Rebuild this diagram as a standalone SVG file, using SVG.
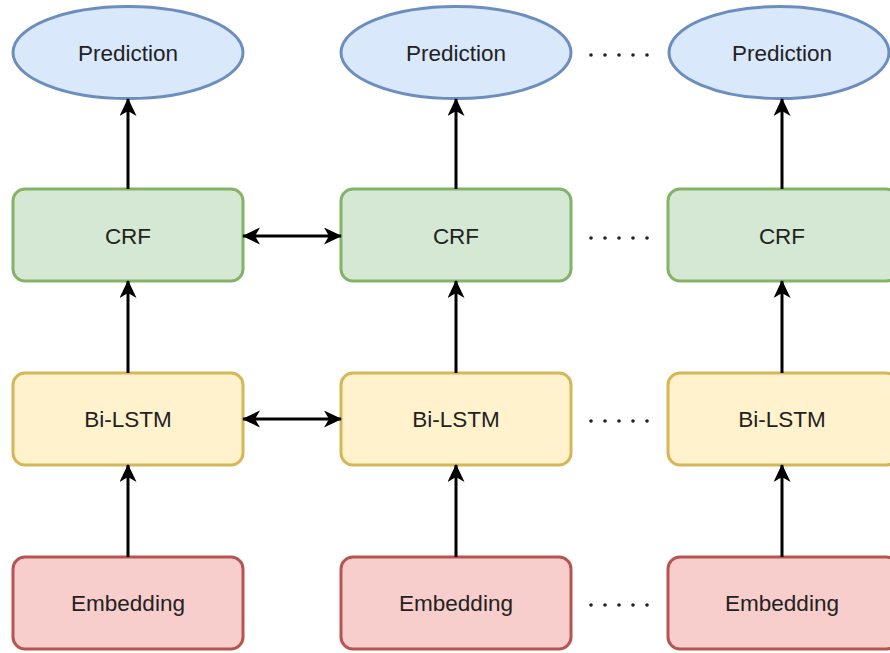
<svg xmlns="http://www.w3.org/2000/svg" width="890" height="653" viewBox="0 0 890 653">
  <style>
    .lbl { font-family: "Liberation Sans", Arial, sans-serif; font-size: 22.5px; fill: #222; text-anchor: middle; dominant-baseline: central; }
    .pred { fill: #dae8fc; stroke: #6c8ebf; stroke-width: 3; }
    .crf { fill: #d5e8d4; stroke: #82b366; stroke-width: 3; }
    .lstm { fill: #fff2cc; stroke: #d6b656; stroke-width: 3; }
    .emb { fill: #f8cecc; stroke: #b85450; stroke-width: 3; }
    .edge { stroke: #000; stroke-width: 3; fill: none; }
    .dot { fill: #222; }
  </style>
  <defs>
    <marker id="arrow" markerUnits="userSpaceOnUse" markerWidth="20" markerHeight="18" refX="17" refY="8.5" orient="auto-start-reverse">
      <path d="M0,0 L18,8.5 L0,17 L5,8.5 z" fill="#000"/>
    </marker>
  </defs>
  <rect width="890" height="653" fill="#fff"/>

  <!-- column 1 -->
  <g id="pred1"><ellipse class="pred" cx="128" cy="52.5" rx="115" ry="46"/><text class="lbl" x="128" y="53">Prediction</text></g>
  <g id="crf1"><rect class="crf" x="13" y="189" width="230" height="92" rx="12"/><text class="lbl" x="128" y="236">CRF</text></g>
  <g id="lstm1"><rect class="lstm" x="13" y="373" width="230" height="92" rx="12"/><text class="lbl" x="128" y="419">Bi-LSTM</text></g>
  <g id="emb1"><rect class="emb" x="13" y="557" width="230" height="92" rx="12"/><text class="lbl" x="128" y="603">Embedding</text></g>

  <!-- column 2 -->
  <g id="pred2"><ellipse class="pred" cx="456" cy="52.5" rx="115" ry="46"/><text class="lbl" x="456" y="53">Prediction</text></g>
  <g id="crf2"><rect class="crf" x="341" y="189" width="230" height="92" rx="12"/><text class="lbl" x="456" y="236">CRF</text></g>
  <g id="lstm2"><rect class="lstm" x="341" y="373" width="230" height="92" rx="12"/><text class="lbl" x="456" y="419">Bi-LSTM</text></g>
  <g id="emb2"><rect class="emb" x="341" y="557" width="230" height="92" rx="12"/><text class="lbl" x="456" y="603">Embedding</text></g>

  <!-- column 3 (runs past the right edge) -->
  <g id="pred3"><ellipse class="pred" cx="779" cy="52.5" rx="110" ry="46"/><text class="lbl" x="782" y="53">Prediction</text></g>
  <g id="crf3"><rect class="crf" x="668" y="189" width="230" height="92" rx="12"/><text class="lbl" x="782" y="236">CRF</text></g>
  <g id="lstm3"><rect class="lstm" x="668" y="373" width="230" height="92" rx="12"/><text class="lbl" x="782" y="419">Bi-LSTM</text></g>
  <g id="emb3"><rect class="emb" x="668" y="557" width="230" height="92" rx="12"/><text class="lbl" x="782" y="603">Embedding</text></g>

  <!-- ellipsis dots between columns 2 and 3 -->
  <g id="dots">
    <g transform="translate(0,55)"><circle class="dot" cx="591" cy="0" r="1.8"/><circle class="dot" cx="605" cy="0" r="1.8"/><circle class="dot" cx="619" cy="0" r="1.8"/><circle class="dot" cx="633" cy="0" r="1.8"/><circle class="dot" cx="647" cy="0" r="1.8"/></g>
    <g transform="translate(0,238)"><circle class="dot" cx="591" cy="0" r="1.8"/><circle class="dot" cx="605" cy="0" r="1.8"/><circle class="dot" cx="619" cy="0" r="1.8"/><circle class="dot" cx="633" cy="0" r="1.8"/><circle class="dot" cx="647" cy="0" r="1.8"/></g>
    <g transform="translate(0,421)"><circle class="dot" cx="591" cy="0" r="1.8"/><circle class="dot" cx="605" cy="0" r="1.8"/><circle class="dot" cx="619" cy="0" r="1.8"/><circle class="dot" cx="633" cy="0" r="1.8"/><circle class="dot" cx="647" cy="0" r="1.8"/></g>
    <g transform="translate(0,605)"><circle class="dot" cx="591" cy="0" r="1.8"/><circle class="dot" cx="605" cy="0" r="1.8"/><circle class="dot" cx="619" cy="0" r="1.8"/><circle class="dot" cx="633" cy="0" r="1.8"/><circle class="dot" cx="647" cy="0" r="1.8"/></g>
  </g>

  <!-- connectors -->
  <g id="edges">
    <line class="edge" x1="128" y1="189" x2="128" y2="99" marker-end="url(#arrow)"/>
    <line class="edge" x1="128" y1="373" x2="128" y2="281" marker-end="url(#arrow)"/>
    <line class="edge" x1="128" y1="557" x2="128" y2="465" marker-end="url(#arrow)"/>
    <line class="edge" x1="456" y1="189" x2="456" y2="99" marker-end="url(#arrow)"/>
    <line class="edge" x1="456" y1="373" x2="456" y2="281" marker-end="url(#arrow)"/>
    <line class="edge" x1="456" y1="557" x2="456" y2="465" marker-end="url(#arrow)"/>
    <line class="edge" x1="782" y1="189" x2="782" y2="99" marker-end="url(#arrow)"/>
    <line class="edge" x1="782" y1="373" x2="782" y2="281" marker-end="url(#arrow)"/>
    <line class="edge" x1="782" y1="557" x2="782" y2="465" marker-end="url(#arrow)"/>
    <line class="edge" x1="243" y1="236" x2="341" y2="236" marker-start="url(#arrow)" marker-end="url(#arrow)"/>
    <line class="edge" x1="243" y1="419" x2="341" y2="419" marker-start="url(#arrow)" marker-end="url(#arrow)"/>
  </g>
</svg>
